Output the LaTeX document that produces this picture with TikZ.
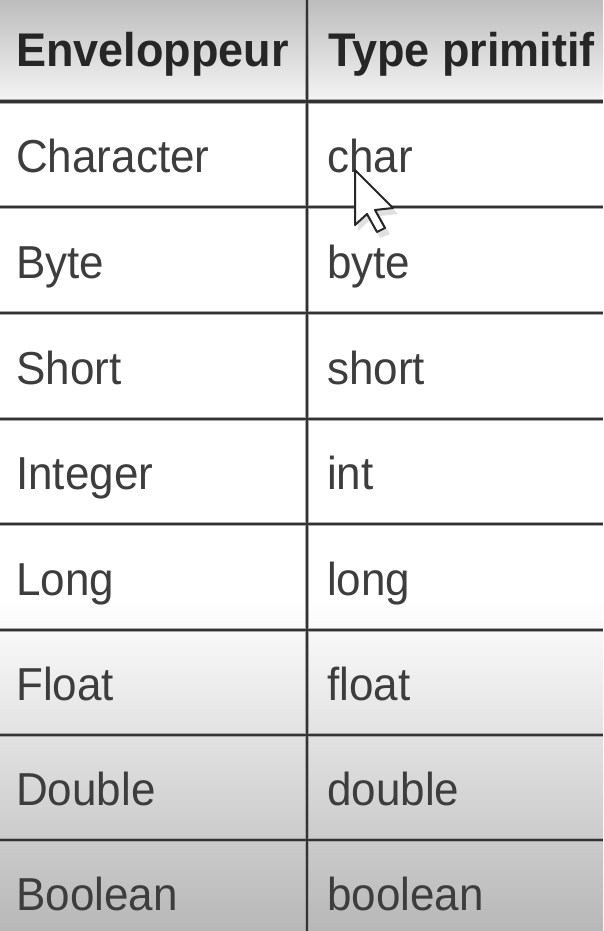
\documentclass[tikz,border=0pt]{standalone}
\usepackage{fontspec}
\setmainfont{Liberation Sans}
\begin{document}
\begin{tikzpicture}[x=1pt,y=-1pt,
  celltext/.style={anchor=base west,inner sep=0pt,text=black!76,font=\fontsize{44}{50}\selectfont},
  headtext/.style={anchor=base west,inner sep=0pt,text=black!85,font=\fontsize{45}{52}\selectfont\bfseries},
  gridhalo/.style={draw=black!35,line width=4.2pt},
  gridline/.style={draw=black!80,line width=2.2pt},
  cursorline/.style={draw=black!85,line width=2pt,line join=round,fill=white}]
\useasboundingbox (0,0) rectangle (603,931);
% backgrounds
\fill[white] (0,0) rectangle (603,931);
\shade[top color=black!26,bottom color=black!4] (0,0) rectangle (603,101);
\shade[top color=white,bottom color=black!28] (0,600) rectangle (603,931);
% grid
\foreach \y in {101.5,207,313,419,524,630,735,840}{
  \draw[gridhalo] (0,\y) -- (603,\y);
}
\draw[gridhalo] (307,0) -- (307,931);
\foreach \y in {101.5,207,313,419,524,630,735,840}{
  \draw[gridline] (0,\y) -- (603,\y);
}
\draw[gridline] (307,0) -- (307,931);
% header
\node[headtext] (h1) at (16,67) {\scalebox{1}[1.05]{Enveloppeur}};
\node[headtext] (h2) at (328,67) {\scalebox{1}[1.05]{Type primitif}};
% rows
\node[celltext] (a1) at (16,172) {\scalebox{1}[1.05]{Character}};   \node[celltext] (b1) at (327,172) {\scalebox{1}[1.05]{char}};
\node[celltext] (a2) at (16,278) {\scalebox{1}[1.05]{Byte}};        \node[celltext] (b2) at (327,278) {\scalebox{1}[1.05]{byte}};
\node[celltext] (a3) at (16,384) {\scalebox{1}[1.05]{Short}};       \node[celltext] (b3) at (327,384) {\scalebox{1}[1.05]{short}};
\node[celltext] (a4) at (16,489) {\scalebox{1}[1.05]{Integer}};     \node[celltext] (b4) at (327,489) {\scalebox{1}[1.05]{int}};
\node[celltext] (a5) at (16,595) {\scalebox{1}[1.05]{Long}};        \node[celltext] (b5) at (327,595) {\scalebox{1}[1.05]{long}};
\node[celltext] (a6) at (16,700) {\scalebox{1}[1.05]{Float}};       \node[celltext] (b6) at (327,700) {\scalebox{1}[1.05]{float}};
\node[celltext] (a7) at (16,805) {\scalebox{1}[1.05]{Double}};      \node[celltext] (b7) at (327,805) {\scalebox{1}[1.05]{double}};
\node[celltext] (a8) at (16,910) {\scalebox{1}[1.05]{Boolean}};     \node[celltext] (b8) at (327,910) {\scalebox{1}[1.05]{boolean}};
% mouse cursor
\begin{scope}[shift={(355,170)}]
  \fill[black,opacity=0.12] (3,4) -- (3,61) -- (15,50) -- (25,68) -- (35,64) -- (25,46) -- (43,44) -- cycle;
  \draw[cursorline] (0,0) -- (0,55) -- (12,44) -- (22,62) -- (30,58) -- (20,40) -- (38,38) -- cycle;
\end{scope}
\end{tikzpicture}
\end{document}
